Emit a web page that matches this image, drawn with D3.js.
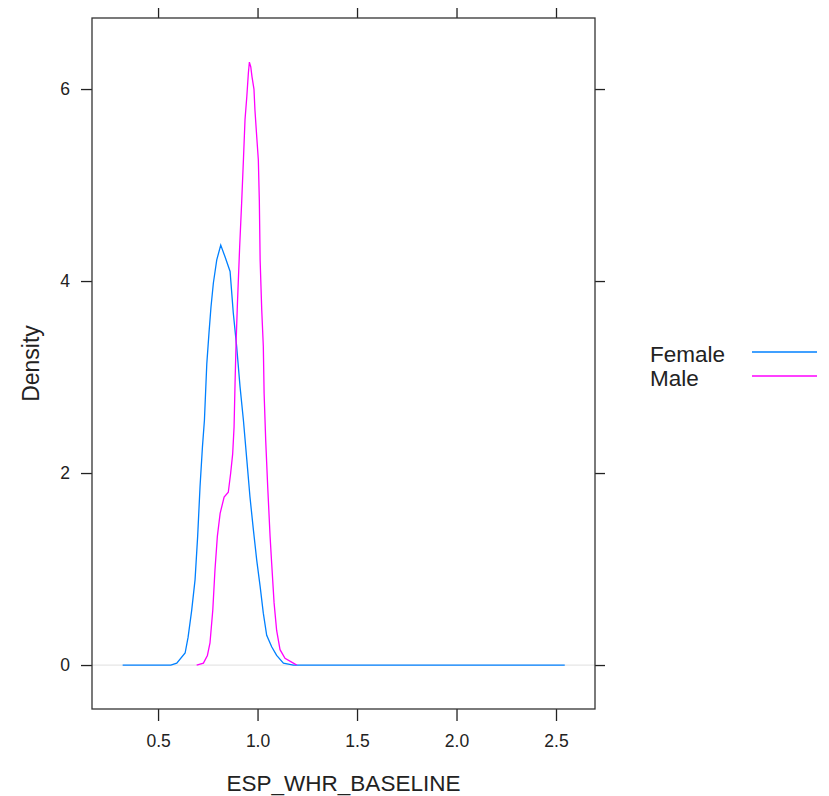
<!DOCTYPE html>
<html>
<head>
<meta charset="utf-8">
<style>
  body { margin: 0; background: #fff; }
  svg { display: block; font-family: 'Liberation Sans', Arial, sans-serif; }
</style>
</head>
<body>
<svg width="829" height="796"></svg>
<script src="https://d3js.org/d3.v7.min.js"></script>
<script>
// density estimates
let femaleX = [0.322, 0.564, 0.594, 0.636, 0.651, 0.669, 0.686, 0.699, 0.711, 0.723, 0.733, 0.745, 0.756, 0.766, 0.778, 0.795, 0.815, 0.837, 0.862, 0.878, 0.895, 0.912, 0.929, 0.946, 0.962, 0.979, 0.996, 1.013, 1.029, 1.046, 1.071, 1.096, 1.130, 1.180, 2.544];
let femaleY = [0, 0, 0.02, 0.125, 0.29, 0.57, 0.89, 1.34, 1.86, 2.27, 2.55, 3.14, 3.46, 3.73, 3.98, 4.22, 4.375, 4.25, 4.10, 3.67, 3.32, 2.90, 2.55, 2.14, 1.75, 1.41, 1.09, 0.82, 0.54, 0.31, 0.19, 0.10, 0.02, 0, 0];

let maleX = [0.694, 0.728, 0.748, 0.761, 0.775, 0.786, 0.798, 0.812, 0.832, 0.853, 0.865, 0.875, 0.882, 0.887, 0.892, 0.899, 0.910, 0.920, 0.929, 0.937, 0.946, 0.954, 0.959, 0.966, 0.972, 0.982, 0.987, 0.996, 1.004, 1.009, 1.013, 1.021, 1.029, 1.033, 1.041, 1.051, 1.063, 1.071, 1.083, 1.096, 1.113, 1.138, 1.180, 1.197];
let maleY = [0, 0.02, 0.10, 0.23, 0.57, 0.99, 1.34, 1.58, 1.75, 1.80, 2.0, 2.20, 2.48, 2.94, 3.35, 3.77, 4.35, 4.81, 5.26, 5.68, 5.92, 6.17, 6.28, 6.23, 6.13, 6.0, 5.78, 5.50, 5.26, 4.84, 4.22, 3.70, 3.32, 2.83, 2.34, 1.86, 1.34, 1.06, 0.65, 0.36, 0.16, 0.07, 0.02, 0];

let groups = ["Female", "Male"];
let colors = ["#0080ff", "#ff00ff"];
let xTicks = [0.5, 1.0, 1.5, 2.0, 2.5];
let yTicks = [0, 2, 4, 6];

let svg = d3.select("svg");
let margin = { top: 18, right: 234, bottom: 87, left: 92 };
let width = 829 - margin.left - margin.right;
let height = 796 - margin.top - margin.bottom;

let x = d3.scaleLinear().domain([0.168, 2.696]).range([0, width]);
let y = d3.scaleLinear().domain([-0.458, 6.74]).range([height, 0]);

let g = svg.append("g").attr("transform", `translate(${margin.left},${margin.top})`);

// zero reference line
g.append("line")
    .attr("x1", 0).attr("x2", width)
    .attr("y1", y(0)).attr("y2", y(0))
    .attr("stroke", "#e6e6e6")
    .attr("stroke-width", 1.2);

let series = [
    femaleX.map((v, i) => [v, femaleY[i]]),
    maleX.map((v, i) => [v, maleY[i]])
];

let line = d3.line().x(d => x(d[0])).y(d => y(d[1]));

g.selectAll(".dens")
    .data(series)
    .join("path")
    .attr("class", "dens")
    .attr("d", line)
    .attr("fill", "none")
    .attr("stroke", (d, i) => colors[i])
    .attr("stroke-width", 1.3);

// axes: labels on bottom/left, bare ticks on top/right
let tickStyle = sel => {
    sel.select(".domain").remove();
    sel.selectAll("line").attr("stroke", "#222").attr("stroke-width", 1.3);
    sel.selectAll("text").attr("fill", "#222").style("font-size", "17.5px");
};

g.append("g")
    .attr("transform", `translate(0,${height})`)
    .call(d3.axisBottom(x).tickValues(xTicks).tickSize(12).tickPadding(14).tickFormat(d3.format(".1f")))
    .call(tickStyle);

g.append("g")
    .call(d3.axisTop(x).tickValues(xTicks).tickSize(10).tickFormat(""))
    .call(tickStyle);

g.append("g")
    .call(d3.axisLeft(y).tickValues(yTicks).tickSize(11).tickPadding(11).tickFormat(d3.format("d")))
    .call(tickStyle);

g.append("g")
    .attr("transform", `translate(${width},0)`)
    .call(d3.axisRight(y).tickValues(yTicks).tickSize(10).tickFormat(""))
    .call(tickStyle);

// panel border
g.append("rect")
    .attr("width", width).attr("height", height)
    .attr("fill", "none")
    .attr("stroke", "#333")
    .attr("stroke-width", 1.3);

// axis titles, centred on the panel
svg.append("text")
    .attr("x", margin.left + width / 2)
    .attr("y", 791)
    .attr("text-anchor", "middle")
    .style("font-size", "22.5px")
    .attr("fill", "#222")
    .text("ESP_WHR_BASELINE");

svg.append("text")
    .attr("transform", `translate(38.5,${margin.top + height / 2}) rotate(-90)`)
    .attr("text-anchor", "middle")
    .style("font-size", "23px")
    .attr("fill", "#222")
    .text("Density");

// legend
let legend = svg.append("g").attr("transform", "translate(650,352)");
groups.forEach((name, i) => {
    legend.append("text")
        .attr("x", 0).attr("y", i * 24 + 10)
        .style("font-size", "22.5px")
        .attr("fill", "#222")
        .text(name);
    legend.append("line")
        .attr("x1", 102).attr("x2", 167)
        .attr("y1", i * 24).attr("y2", i * 24)
        .attr("stroke", colors[i])
        .attr("stroke-width", 1.3);
});
</script>
</body>
</html>
